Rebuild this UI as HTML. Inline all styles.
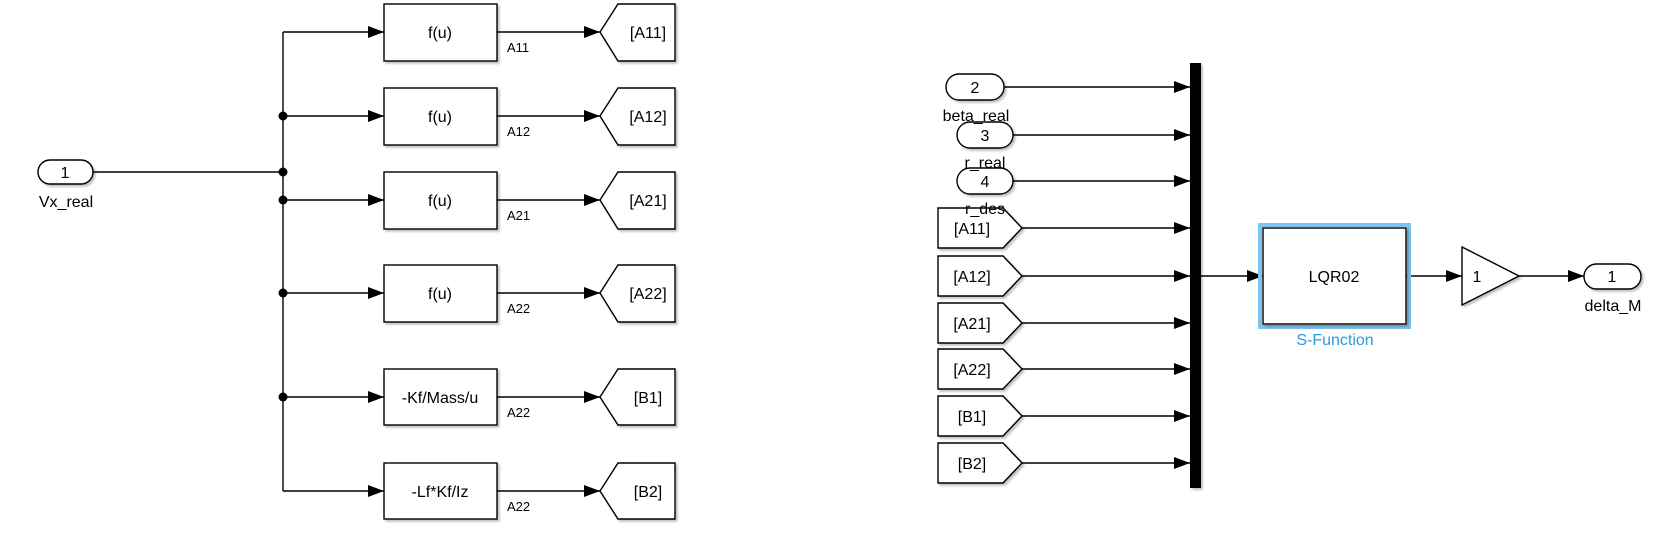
<!DOCTYPE html>
<html><head><meta charset="utf-8"><style>
html,body{margin:0;padding:0;background:#fff;width:1664px;height:543px;overflow:hidden}
svg text{font-family:"Liberation Sans",sans-serif;fill:#000}
</style></head><body>
<svg width="1664" height="543" viewBox="0 0 1664 543" xmlns="http://www.w3.org/2000/svg">
<defs>
<marker id="a" markerWidth="16" markerHeight="12" refX="16" refY="6" orient="auto" markerUnits="userSpaceOnUse"><path d="M0,0 L16,6 L0,12 Z" fill="#000"/></marker>
<filter id="sh" x="-10%" y="-10%" width="130%" height="130%"><feDropShadow dx="2" dy="2" stdDeviation="1" flood-color="#000" flood-opacity="0.25"/></filter>
</defs>
<g stroke="#000" stroke-width="1.4" fill="none">
<!-- left trunk -->
<line x1="93" y1="172" x2="283" y2="172"/>
<line x1="283" y1="32" x2="283" y2="491"/>
<line x1="283" y1="32" x2="384" y2="32" marker-end="url(#a)"/>
<line x1="283" y1="116" x2="384" y2="116" marker-end="url(#a)"/>
<line x1="283" y1="200" x2="384" y2="200" marker-end="url(#a)"/>
<line x1="283" y1="293" x2="384" y2="293" marker-end="url(#a)"/>
<line x1="283" y1="397" x2="384" y2="397" marker-end="url(#a)"/>
<line x1="283" y1="491" x2="384" y2="491" marker-end="url(#a)"/>
<line x1="497" y1="32" x2="600" y2="32" marker-end="url(#a)"/>
<line x1="497" y1="116" x2="600" y2="116" marker-end="url(#a)"/>
<line x1="497" y1="200" x2="600" y2="200" marker-end="url(#a)"/>
<line x1="497" y1="293" x2="600" y2="293" marker-end="url(#a)"/>
<line x1="497" y1="397" x2="600" y2="397" marker-end="url(#a)"/>
<line x1="497" y1="491" x2="600" y2="491" marker-end="url(#a)"/>
</g>
<g fill="#000">
<circle cx="283" cy="116" r="4.5"/><circle cx="283" cy="172" r="4.5"/><circle cx="283" cy="200" r="4.5"/><circle cx="283" cy="293" r="4.5"/><circle cx="283" cy="397" r="4.5"/>
</g>
<g stroke="#000" stroke-width="1.4" fill="#fff" filter="url(#sh)">
<rect x="38" y="160" width="55" height="24" rx="12"/>
<rect x="384" y="4" width="113" height="57"/>
<rect x="384" y="88" width="113" height="57"/>
<rect x="384" y="172" width="113" height="57"/>
<rect x="384" y="265" width="113" height="57"/>
<rect x="384" y="369" width="113" height="56"/>
<rect x="384" y="463" width="113" height="56"/>
<path d="M600,32 L618,4 L675,4 L675,61 L618,61 Z"/>
<path d="M600,116 L618,88 L675,88 L675,145 L618,145 Z"/>
<path d="M600,200 L618,172 L675,172 L675,229 L618,229 Z"/>
<path d="M600,293 L618,265 L675,265 L675,322 L618,322 Z"/>
<path d="M600,397 L618,369 L675,369 L675,425 L618,425 Z"/>
<path d="M600,491 L618,463 L675,463 L675,519 L618,519 Z"/>
</g>
<g font-size="16" text-anchor="middle">
<text x="65" y="178">1</text>
<text x="440" y="38">f(u)</text>
<text x="440" y="122">f(u)</text>
<text x="440" y="206">f(u)</text>
<text x="440" y="299">f(u)</text>
<text x="440" y="403">-Kf/Mass/u</text>
<text x="440" y="497">-Lf*Kf/Iz</text>
<text x="648" y="38">[A11]</text>
<text x="648" y="122">[A12]</text>
<text x="648" y="206">[A21]</text>
<text x="648" y="299">[A22]</text>
<text x="648" y="403">[B1]</text>
<text x="648" y="497">[B2]</text>
<text x="66" y="207">Vx_real</text>
</g>
<g font-size="13">
<text x="507" y="52">A11</text>
<text x="507" y="136">A12</text>
<text x="507" y="220">A21</text>
<text x="507" y="313">A22</text>
<text x="507" y="417">A22</text>
<text x="507" y="511">A22</text>
</g>
<!-- right side -->
<g stroke="#000" stroke-width="1.4" fill="none">
<line x1="1004" y1="87" x2="1190" y2="87" marker-end="url(#a)"/>
<line x1="1013" y1="135" x2="1190" y2="135" marker-end="url(#a)"/>
<line x1="1013" y1="181" x2="1190" y2="181" marker-end="url(#a)"/>
<line x1="1022" y1="228" x2="1190" y2="228" marker-end="url(#a)"/>
<line x1="1022" y1="276" x2="1190" y2="276" marker-end="url(#a)"/>
<line x1="1022" y1="323" x2="1190" y2="323" marker-end="url(#a)"/>
<line x1="1022" y1="369" x2="1190" y2="369" marker-end="url(#a)"/>
<line x1="1022" y1="416" x2="1190" y2="416" marker-end="url(#a)"/>
<line x1="1022" y1="463" x2="1190" y2="463" marker-end="url(#a)"/>
<line x1="1201" y1="276" x2="1263" y2="276" marker-end="url(#a)"/>
<line x1="1406" y1="276" x2="1462" y2="276" marker-end="url(#a)"/>
<line x1="1519" y1="276" x2="1584" y2="276" marker-end="url(#a)"/>
</g>
<rect x="1190" y="63" width="11" height="425" fill="#000" filter="url(#sh)"/>
<rect x="1260" y="225" width="149" height="102" fill="none" stroke="#7cc4ee" stroke-width="4"/>
<g stroke="#000" stroke-width="1.4" fill="#fff" filter="url(#sh)">
<rect x="946" y="74" width="58" height="26" rx="13"/>
<rect x="957" y="122" width="56" height="26" rx="13"/>
<rect x="957" y="168" width="56" height="26" rx="13"/>
<path d="M938,208 L1003,208 L1022,228 L1003,248 L938,248 Z"/>
<path d="M938,256 L1003,256 L1022,276 L1003,296 L938,296 Z"/>
<path d="M938,303 L1003,303 L1022,323 L1003,343 L938,343 Z"/>
<path d="M938,349 L1003,349 L1022,369 L1003,389 L938,389 Z"/>
<path d="M938,396 L1003,396 L1022,416 L1003,436 L938,436 Z"/>
<path d="M938,443 L1003,443 L1022,463 L1003,483 L938,483 Z"/>
<rect x="1263" y="228" width="143" height="96"/>
<path d="M1462,247 L1519,276 L1462,305 Z"/>
<rect x="1584" y="264" width="57" height="25" rx="12.5"/>
</g>
<g font-size="16" text-anchor="middle">
<text x="975" y="93">2</text>
<text x="976" y="121">beta_real</text>
<text x="985" y="141">3</text>
<text x="985" y="168">r_real</text>
<text x="985" y="187">4</text>
<text x="985" y="214">r_des</text>
<text x="972" y="234">[A11]</text>
<text x="972" y="282">[A12]</text>
<text x="972" y="329">[A21]</text>
<text x="972" y="375">[A22]</text>
<text x="972" y="422">[B1]</text>
<text x="972" y="469">[B2]</text>
<text x="1334" y="282">LQR02</text>
<text x="1477" y="282">1</text>
<text x="1612" y="282">1</text>
<text x="1613" y="311">delta_M</text>
<text x="1335" y="345" style="fill:#2a9ad8">S-Function</text>
</g>
</svg>
</body></html>
